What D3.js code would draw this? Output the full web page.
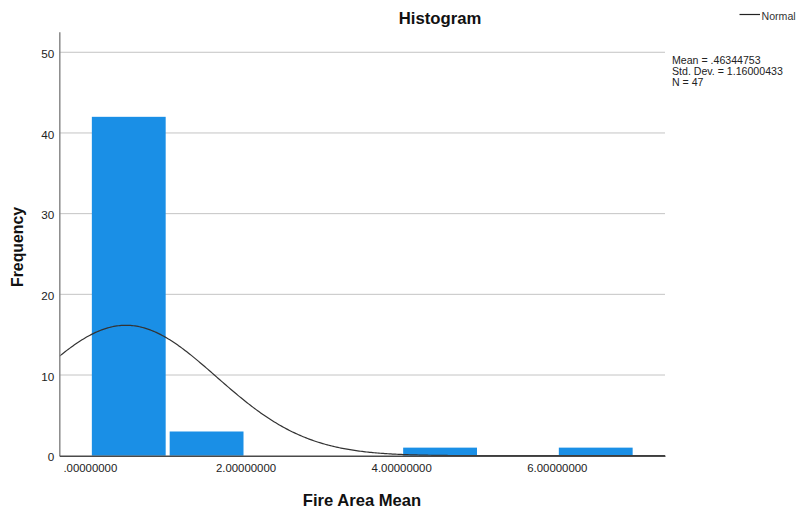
<!DOCTYPE html>
<html>
<head>
<meta charset="utf-8">
<script src="https://cdn.jsdelivr.net/npm/d3@7"></script>
<style>
  html, body { margin: 0; padding: 0; background: #fff; }
  svg { display: block; font-family: "Liberation Sans", Arial, sans-serif; }
</style>
</head>
<body>
<svg id="chart" width="799" height="510"></svg>
<script>
// Histogram bins (width 1.0) and their frequencies
const binStarts = [0, 1, 2, 3, 4, 5, 6];
const binWidth = 1;
const counts = [42, 3, 0, 0, 1, 0, 1];

// Summary statistics used for the fitted normal curve
const mean = 0.46344753;
const stdDev = 1.16000433;
const n = 47;

// Axis ticks
const xTickValues = [0, 2, 4, 6];
const xTickLabels = [".00000000", "2.00000000", "4.00000000", "6.00000000"];
const yTickValues = [0, 10, 20, 30, 40, 50];

const statLines = ["Mean = .46344753", "Std. Dev. = 1.16000433", "N = 47"];

const svg = d3.select("#chart");

const plot = { left: 59.3, right: 665, top: 31.7, bottom: 455.7 };

const x = d3.scaleLinear().domain([-0.3925, 7.39]).range([plot.left, plot.right]);
const y = d3.scaleLinear().domain([0, 52.55]).range([plot.bottom, plot.top]);

// Horizontal gridlines
svg.append("g")
  .selectAll("line")
  .data(yTickValues.filter(d => d > 0))
  .join("line")
  .attr("x1", plot.left).attr("x2", plot.right)
  .attr("y1", d => y(d)).attr("y2", d => y(d))
  .attr("stroke", "#c4c4c4").attr("stroke-width", 1);

// Bars
const bins = binStarts.map((s, i) => ({ x0: s, x1: s + binWidth, count: counts[i] }))
  .filter(b => b.count > 0);
const inset = 2;
svg.append("g")
  .selectAll("rect")
  .data(bins)
  .join("rect")
  .attr("x", d => x(d.x0) + inset)
  .attr("width", d => x(d.x1) - x(d.x0) - 2 * inset)
  .attr("y", d => y(d.count))
  .attr("height", d => y(0) - y(d.count))
  .attr("fill", "#1a8fe6");

// Fitted normal curve scaled to counts
const pdf = v => Math.exp(-0.5 * ((v - mean) / stdDev) ** 2) / (stdDev * Math.sqrt(2 * Math.PI));
const [xmin, xmax] = x.domain();
const curvePts = d3.range(0, 401).map(i => {
  const v = xmin + (xmax - xmin) * i / 400;
  return [v, pdf(v) * n * binWidth];
});
svg.append("path")
  .datum(curvePts)
  .attr("fill", "none")
  .attr("stroke", "#333")
  .attr("stroke-width", 1.2)
  .attr("d", d3.line().x(d => x(d[0])).y(d => y(d[1])));

// Y axis
const yAxis = svg.append("g")
  .attr("transform", `translate(${plot.left},0)`)
  .call(d3.axisLeft(y).tickValues(yTickValues).tickSize(0).tickPadding(5).tickFormat(d3.format("d")));
yAxis.select(".domain").attr("stroke", "#8a8a8a").attr("stroke-width", 1.5);
yAxis.selectAll("text").attr("font-size", "11.7px").attr("fill", "#222").attr("dy", "0.45em")
  .attr("font-family", "Liberation Sans, Arial, sans-serif");

// X axis
const xAxis = svg.append("g")
  .attr("transform", `translate(0,${plot.bottom})`)
  .call(d3.axisBottom(x).tickValues(xTickValues).tickSize(0).tickPadding(8)
    .tickFormat((d, i) => xTickLabels[i]));
xAxis.select(".domain").attr("stroke", "#4a4a4a").attr("stroke-width", 1.6);
xAxis.selectAll("text").attr("font-size", "11.4px").attr("fill", "#222")
  .attr("font-family", "Liberation Sans, Arial, sans-serif");

// Titles
svg.append("text")
  .attr("x", 440).attr("y", 24)
  .attr("text-anchor", "middle")
  .attr("font-size", "16.7px").attr("font-weight", "bold").attr("fill", "#111")
  .text("Histogram");

svg.append("text")
  .attr("x", 362).attr("y", 506)
  .attr("text-anchor", "middle")
  .attr("font-size", "16.6px").attr("font-weight", "bold").attr("fill", "#111")
  .text("Fire Area Mean");

svg.append("text")
  .attr("transform", "translate(23,247) rotate(-90)")
  .attr("text-anchor", "middle")
  .attr("font-size", "15.8px").attr("font-weight", "bold").attr("fill", "#111")
  .text("Frequency");

// Legend
svg.append("line")
  .attr("x1", 739.5).attr("x2", 760).attr("y1", 14.5).attr("y2", 14.5)
  .attr("stroke", "#222").attr("stroke-width", 1.2);
svg.append("text")
  .attr("x", 761.5).attr("y", 19.5)
  .attr("font-size", "10.6px").attr("fill", "#333")
  .text("Normal");

// Statistics block
svg.append("g")
  .selectAll("text")
  .data(statLines)
  .join("text")
  .attr("x", 672).attr("y", (d, i) => 64 + i * 11.2)
  .attr("font-size", "10.6px").attr("fill", "#222")
  .text(d => d);
</script>
</body>
</html>
